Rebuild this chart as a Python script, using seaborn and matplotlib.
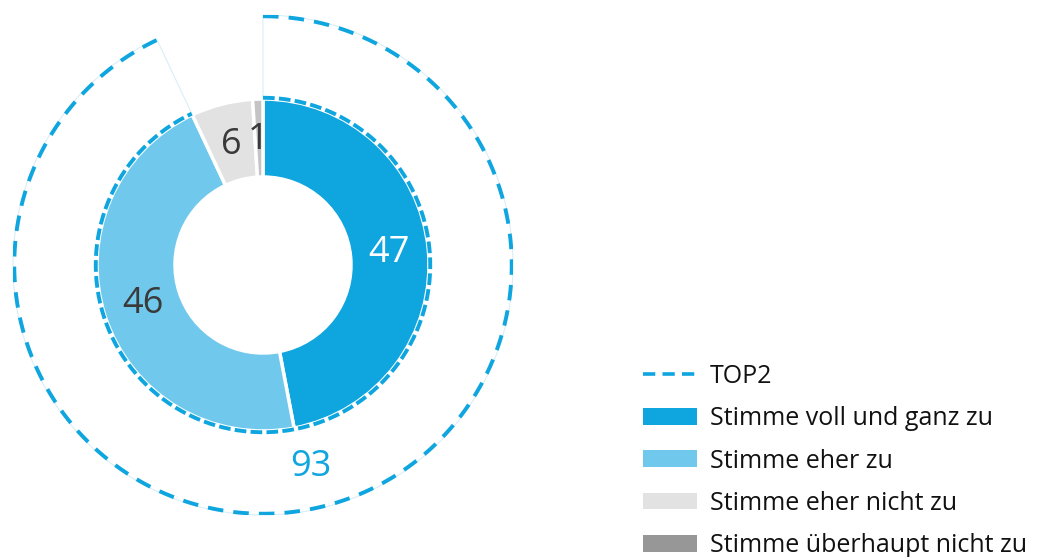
import numpy as np
import matplotlib
matplotlib.use("Agg")
import matplotlib.pyplot as plt
import seaborn as sns
from matplotlib.patches import Patch
from matplotlib.lines import Line2D

categories = ["Stimme voll und ganz zu", "Stimme eher zu",
              "Stimme eher nicht zu", "Stimme überhaupt nicht zu"]
values = [47, 46, 6, 1]
top2_label = "TOP2"
top2_value = 93

sns.set_theme(style="white")
plt.rcParams["font.family"] = ["Open Sans", "DejaVu Sans"]

blue = "#0FA5DF"
pie_colors = ["#0FA5DF", "#70C9EC", "#E2E2E2", "#C4C4C4"]
legend_colors = ["#0FA5DF", "#70C9EC", "#E2E2E2", "#979797"]
label_colors = ["white", "#3A3A3A", "#3A3A3A", "#3A3A3A"]

fig = plt.figure(figsize=(10.39, 5.57), dpi=100)
ax = fig.add_axes([13 / 1039, 42 / 557, 500 / 1039, 500 / 557])
ax.axis("off")

r_out = 0.664
r_in = 0.352

# outer TOP2 wedge (faint radial edges)
outer, _ = ax.pie([top2_value, 100 - top2_value], radius=1.0, startangle=90, counterclock=False,
                  colors=["none", "none"],
                  wedgeprops=dict(width=1.0 - r_out, linewidth=0.8, fill=False))
outer[0].set_edgecolor("#D8EEF8")
outer[1].set_edgecolor("none")

# inner donut
wedges, _ = ax.pie(values, radius=r_out, startangle=90, counterclock=False,
                   colors=pie_colors,
                   wedgeprops=dict(width=r_out - r_in, edgecolor="white", linewidth=2.5))

# dashed arcs for TOP2
frac = top2_value / 100.0
theta = np.radians(90 - np.linspace(0, 360 * frac, 400))
ax.plot(0.995 * np.cos(theta), 0.995 * np.sin(theta), color=blue, lw=2.8,
        linestyle=(0, (4.0, 2.6)), dash_capstyle="butt")
ax.plot((r_out + 0.005) * np.cos(theta), (r_out + 0.005) * np.sin(theta), color=blue, lw=2.8,
        linestyle=(0, (3.0, 1.1)), dash_capstyle="butt")

# value labels
cum = np.cumsum([0] + values[:-1])
for i, v in enumerate(values):
    mid = np.radians(90 - 3.6 * (cum[i] + v / 2.0))
    x = 0.507 * np.cos(mid)
    y = 0.507 * np.sin(mid)
    if i == 2:
        x, y = -0.128, 0.48
    if i == 3:
        x, y = -0.02, 0.50
    ax.text(x, y, str(v), ha="center", va="center", fontsize=26,
            color=label_colors[i])

# TOP2 label
ax.text(0.192, -0.808, str(top2_value), ha="center", va="center", fontsize=26, color=blue)

ax.set_xlim(-1, 1)
ax.set_ylim(-1, 1)
ax.set_aspect("equal")

handles = [Line2D([0], [0], color=blue, lw=2.6, linestyle=(0, (3.4, 2.0)))]
handles += [Patch(facecolor=c, edgecolor="none") for c in legend_colors]
labels = [top2_label] + categories
leg = fig.legend(handles, labels, loc="upper left", bbox_to_anchor=(643 / 1039, 1 - 364 / 557),
                 frameon=False, fontsize=18, handlelength=2.16, handleheight=0.65,
                 handletextpad=0.52, labelspacing=0.69, borderaxespad=0, borderpad=0,
                 labelcolor="#111111")

fig.savefig("out.png", dpi=100)
